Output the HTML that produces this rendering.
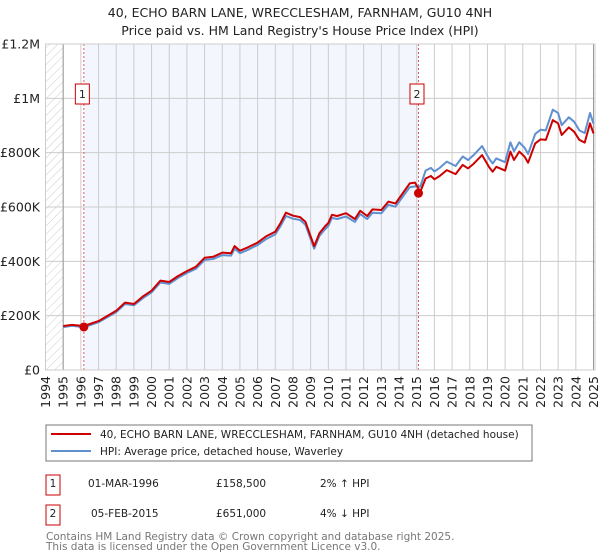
<!DOCTYPE html>
<html><head><meta charset="utf-8"><style>
body{margin:0;background:#fff;width:600px;height:560px;overflow:hidden;font-family:"DejaVu Sans","Liberation Sans",sans-serif}
svg{position:absolute;left:0;top:0}
</style></head><body>
<svg id="c" width="600" height="560" font-family="DejaVu Sans, Liberation Sans, sans-serif">
<defs><pattern id="h" width="6" height="6" patternUnits="userSpaceOnUse" patternTransform="rotate(45)"><line x1="0" y1="0" x2="0" y2="6" stroke="#ccc" stroke-width="1"/></pattern></defs>
<text x="300" y="17" text-anchor="middle" font-size="12.5" fill="#222">40, ECHO BARN LANE, WRECCLESHAM, FARNHAM, GU10 4NH</text>
<text x="300" y="35" text-anchor="middle" font-size="12.5" fill="#222">Price paid vs. HM Land Registry's House Price Index (HPI)</text>
<g id="plot"></g>
<g>
<rect x="46" y="425" width="486" height="36" fill="#fff" stroke="#777"/>
<line x1="51" y1="434" x2="91" y2="434" stroke="#cc0000" stroke-width="2"/>
<text x="100" y="438" font-size="10.5" fill="#222">40, ECHO BARN LANE, WRECCLESHAM, FARNHAM, GU10 4NH (detached house)</text>
<line x1="51" y1="451" x2="91" y2="451" stroke="#6090d0" stroke-width="2"/>
<text x="100" y="455" font-size="10.5" fill="#222">HPI: Average price, detached house, Waverley</text>
</g>
<g font-size="10.5" fill="#222">
<rect x="46" y="475" width="14" height="20" fill="#fff" stroke="#cc0000"/>
<text x="53" y="487" text-anchor="middle">1</text>
<text x="88" y="487">01-MAR-1996</text><text x="216" y="487">£158,500</text><text x="320" y="487">2% ↑ HPI</text>
<rect x="46" y="505" width="14" height="20" fill="#fff" stroke="#cc0000"/>
<text x="53" y="517" text-anchor="middle">2</text>
<text x="91" y="517">05-FEB-2015</text><text x="216" y="517">£651,000</text><text x="320" y="517">4% ↓ HPI</text>
</g>
<text x="46" y="540" font-size="10.5" fill="#777">Contains HM Land Registry data © Crown copyright and database right 2025.</text>
<text x="46" y="550" font-size="10.5" fill="#777">This data is licensed under the Open Government Licence v3.0.</text>
</svg>
<script>
const dates=[1995.0,1995.5,1996.17,1997.0,1998.0,1998.5,1999.0,1999.5,2000,2000.5,2001,2001.5,2002,2002.5,2003,2003.5,2004,2004.5,2004.7,2005,2005.5,2006,2006.5,2007,2007.3,2007.6,2008,2008.4,2008.7,2009.0,2009.2,2009.5,2009.8,2010.0,2010.2,2010.5,2011,2011.5,2011.8,2012.2,2012.5,2013,2013.4,2013.8,2014.2,2014.6,2014.9,2015.2,2015.5,2015.8,2016.0,2016.3,2016.7,2017.2,2017.6,2017.9,2018.2,2018.7,2019.1,2019.3,2019.5,2020.0,2020.3,2020.5,2020.8,2021.1,2021.3,2021.7,2022.0,2022.3,2022.7,2023.0,2023.2,2023.6,2023.9,2024.2,2024.5,2024.8,2025.0];
const propertyValues=[162,166,162,180,218,248,243,270,292,329,324,346,364,380,413,417,432,430,456,439,453,469,493,509,541,579,568,563,546,491,456,504,528,541,571,567,577,556,586,567,591,589,620,613,650,687,690,656,705,714,702,714,736,721,755,742,758,791,746,730,748,734,804,773,804,785,763,834,849,847,920,908,865,893,877,847,837,908,871];
const hpiValues=[158,163,157,176,213,243,238,264,286,322,317,339,357,372,405,409,423,421,447,430,444,460,483,499,530,567,557,552,535,481,447,494,517,530,560,556,565,545,574,556,579,577,608,601,637,673,676,675,734,744,731,744,767,751,786,773,790,824,777,760,779,765,838,805,838,818,795,869,884,882,958,946,901,930,914,882,872,946,907];
const saleDates=[1996.17,2015.1];
const salePrices=[158.5,651];
const saleLabels=["1","2"];
const yTicks=[0,200,400,600,800,1000,1200];
const yTickLabels=["£0","£200K","£400K","£600K","£800K","£1M","£1.2M"];
const xTicks=[];for(let y=1994;y<=2025;y++)xTicks.push(y);

const X0=45.5,X1=593.5,Y0=370,Y1=44;
const xs=v=>X0+(v-1994)/(2025-1994)*(X1-X0);
const ys=v=>Y0-v/1200*(Y0-Y1);
const NS="http://www.w3.org/2000/svg";
const g=document.getElementById('plot');
function mk(t,a,parent){const e=document.createElementNS(NS,t);for(const k in a)e.setAttribute(k,a[k]);(parent||g).appendChild(e);return e;}
let e;
e=mk('rect',{x:X0,y:Y1,width:xs(1995)-X0,height:Y0-Y1,fill:'url(#h)'});


e=mk('rect',{x:X1,y:Y1,width:2,height:Y0-Y1,fill:'url(#h)'});


e=mk('rect',{x:xs(saleDates[0]),y:Y1,width:xs(saleDates[1])-xs(saleDates[0]),height:Y0-Y1,fill:'#f3f6fd'});


xTicks.forEach((t,i)=>{
  e=mk('line',{x1:xs(t),x2:xs(t),y1:Y1,y2:Y0,stroke:'#ccc','stroke-width':1});
  
  
  e=mk('text',{x:0,y:0,transform:`translate(${xs(t)+4.5},${Y0+6}) rotate(-90)`,'text-anchor':'end','font-size':12.5,fill:'#222'});
  e.textContent=t;
  
  
});
yTicks.forEach((t,i)=>{
  e=mk('line',{x1:X0,x2:595,y1:ys(t),y2:ys(t),stroke:'#ccc','stroke-width':1});
  
  
  e=mk('text',{x:40,y:ys(t)+4.5,'text-anchor':'end','font-size':12.5,fill:'#222'});
  e.textContent=yTickLabels[i];
  
  
});
e=mk('line',{x1:xs(1995),x2:xs(1995),y1:Y1,y2:Y0,stroke:'#999','stroke-width':1});


e=mk('line',{x1:X1,x2:X1,y1:Y1,y2:Y0,stroke:'#999','stroke-width':1});


saleDates.forEach((d,i)=>{
  e=mk('line',{x1:xs(d),x2:xs(d),y1:Y1,y2:Y0,stroke:'#e06060','stroke-width':1,'stroke-dasharray':'2,2'});
  
  
});
function line(vals,color){
  const p=dates.map((d,i)=>`${i?'L':'M'}${xs(d).toFixed(1)},${ys(vals[i]).toFixed(1)}`).join('');
  return mk('path',{d:p,fill:'none',stroke:color,'stroke-width':2,'stroke-linejoin':'round'});
}
e=line(hpiValues,'#6090d0');


e=line(propertyValues,'#cc0000');


saleDates.forEach((d,i)=>{
  e=mk('circle',{cx:xs(d),cy:ys(salePrices[i]),r:4.5,fill:'#cc0000'});
  
  
  const bx=xs(d)-8.5;
  e=mk('rect',{x:bx,y:84,width:14,height:20,fill:'#fff',stroke:'#cc0000'});
  
  
  e=mk('text',{x:bx+7,y:98,'text-anchor':'middle','font-size':11,fill:'#222'});
  e.textContent=saleLabels[i];
  
  
});
e=mk('rect',{x:X0,y:Y1,width:595-X0,height:Y0-Y1,fill:'none',stroke:'#ccc'});


</script>
</body></html>
